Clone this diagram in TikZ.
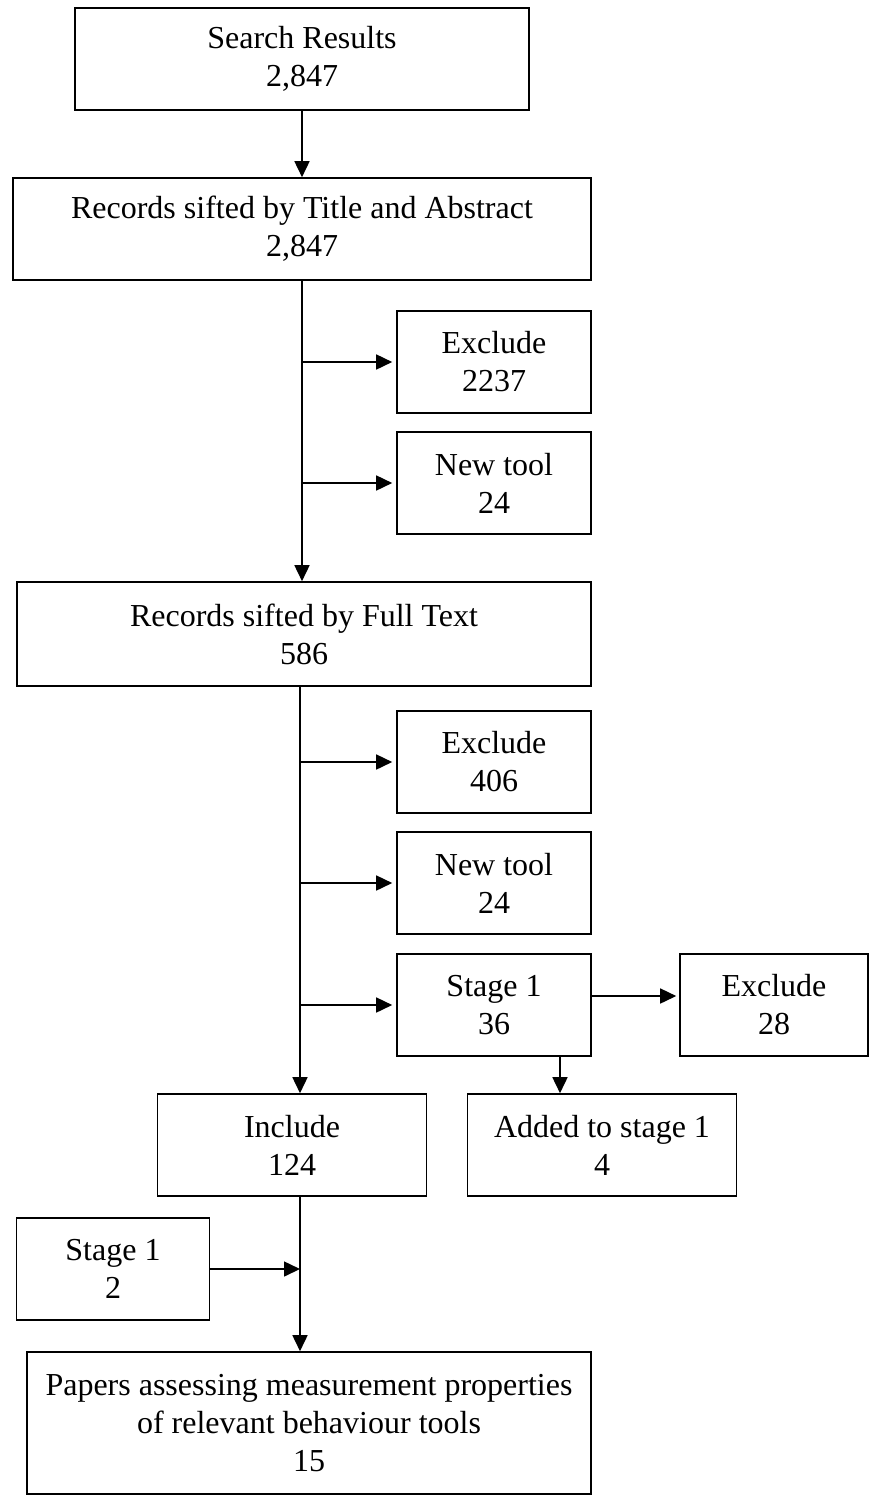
\documentclass[tikz,border=0pt]{standalone}
\usepackage{fontspec}
\setmainfont{Liberation Serif}
\usetikzlibrary{arrows.meta}

\begin{document}
\begin{tikzpicture}[x=1pt,y=1pt]
		
		% Node style
		\tikzset{
			record/.style={
				rectangle,
				draw,
				line width=1.6pt,
				inner sep=0pt,
				minimum height=102pt,
				align=center,
				font=\fontsize{32}{38}\selectfont
			},
			flow/.style={
				line width=1.6pt,
				-{Triangle[length=16pt,width=15pt]}
			}
		}
		
		\useasboundingbox (0,0) rectangle (868,-1496);
		
		% Nodes
		\node[record, minimum width=454pt] (SR) at (302,-59) {Search Results\\2,847};
		\node[record, minimum width=578pt] (TA) at (302,-229) {Records sifted by Title and Abstract\\2,847};
		\node[record, minimum width=194pt] (E1) at (494,-362) {Exclude\\2237};
		\node[record, minimum width=194pt] (N1) at (494,-483) {New tool\\24};
		\node[record, minimum width=574pt, minimum height=104pt] (FT) at (304,-634) {Records sifted by Full Text\\586};
		\node[record, minimum width=194pt] (E2) at (494,-762) {Exclude\\406};
		\node[record, minimum width=194pt] (N2) at (494,-883) {New tool\\24};
		\node[record, minimum width=194pt] (S1) at (494,-1005) {Stage 1\\36};
		\node[record, minimum width=188pt] (E3) at (774,-1005) {Exclude\\28};
		\node[record, minimum width=269pt] (I) at (292,-1145) {Include\\124};
		\node[record, minimum width=269pt] (AS) at (602,-1145) {Added to stage 1\\4};
		\node[record, minimum width=193pt] (S2) at (113,-1269) {Stage 1\\2};
		\node[record, minimum width=564pt, minimum height=142pt] (PA) at (309,-1423) {Papers assessing measurement properties\\of relevant behaviour tools\\15};
		
		% Trunks
		\coordinate (Tr) at (300,0);
		\coordinate (Ad) at (560,0);
		
		% Lines
		\draw[flow] (SR) -- (TA);
		\draw[flow] (TA) -- (FT.north -| TA);
		\draw[flow, shorten >=4pt] (TA.south |- E1.west) -- (E1.west);
		\draw[flow, shorten >=4pt] (TA.south |- N1.west) -- (N1.west);
		\draw[flow] (FT.south -| Tr) -- (I.north -| Tr);
		\draw[flow, shorten >=4pt] (Tr |- E2.west) -- (E2.west);
		\draw[flow, shorten >=4pt] (Tr |- N2.west) -- (N2.west);
		\draw[flow, shorten >=4pt] (Tr |- S1.west) -- (S1.west);
		\draw[flow, shorten >=3pt] ([yshift=9pt]S1.east) -- ([yshift=9pt]S1.east -| E3.west);
		\draw[flow] (S1.south -| Ad) -- (AS.north -| Ad);
		\draw[flow] (I.south -| Tr) -- (PA.north -| Tr);
		\draw[flow] (S2.east) -- (S2.east -| Tr);
		
	\end{tikzpicture}
\end{document}
